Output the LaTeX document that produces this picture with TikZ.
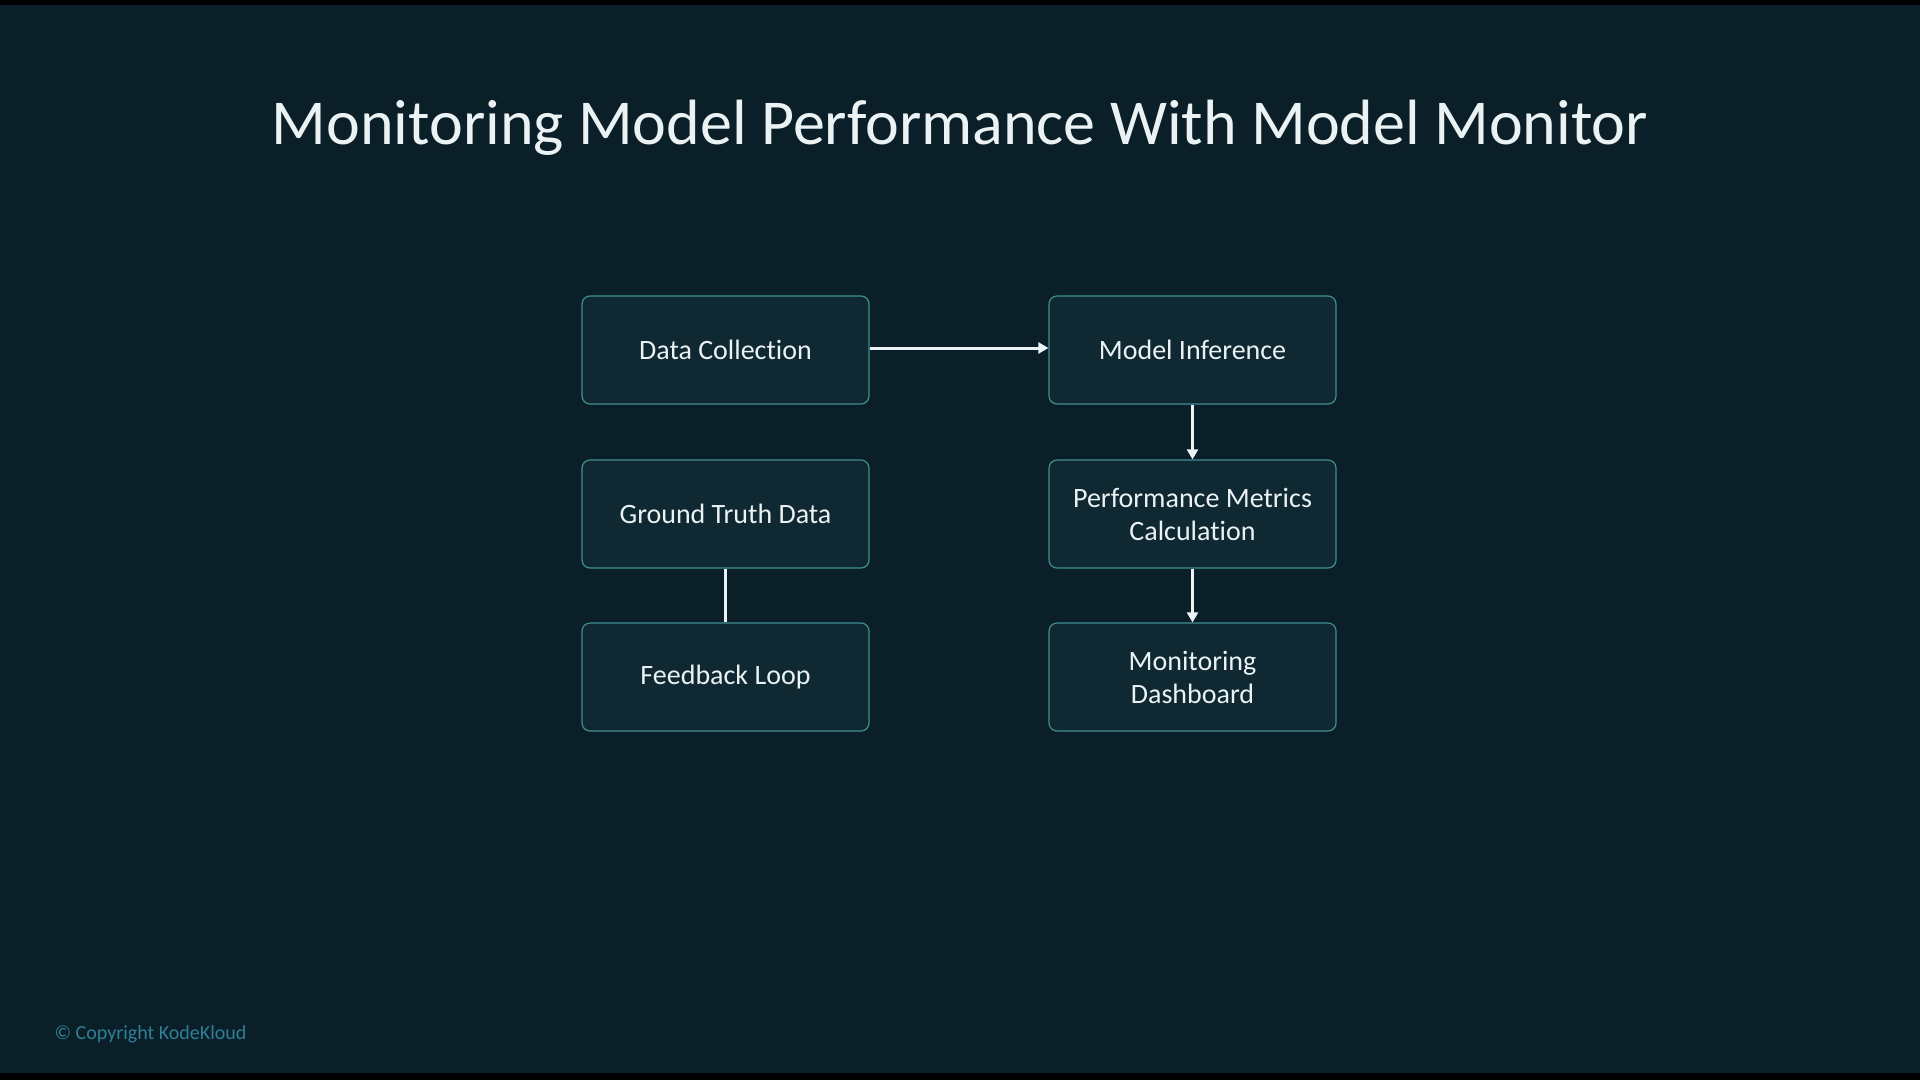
\documentclass[tikz,border=0pt]{standalone}
\usepackage{fontspec}
\setmainfont{Carlito}[Ligatures = NoCommon]
\usepackage{tikz}
\usetikzlibrary{arrows.meta,positioning,shapes}
\definecolor{bgdark}{HTML}{0B1F28}
\definecolor{boxfill}{HTML}{0F2832}
\definecolor{boxline}{HTML}{3F8E90}
\definecolor{linkwhite}{HTML}{EAF2F4}
\definecolor{copyblue}{HTML}{2F7F96}

\begin{document}
\begin{tikzpicture}[x = 1pt, y = -1pt,
  stage/.style = {draw = boxline, line width = 1.2pt, fill = boxfill, rounded corners = 8pt,
    minimum width = 287pt, minimum height = 108pt, align = center, text = linkwhite,
    font = \fontsize{28}{33}\selectfont},
  link/.style = {draw = linkwhite, line width = 3pt, -{Triangle[length = 10pt, width = 11pt]}},
  plainlink/.style = {draw = linkwhite, line width = 3pt}]
\fill[bgdark] (0,0) rectangle (1920,1080);
\fill[black] (0,0) rectangle (1920,5);
\fill[black] (0,1073) rectangle (1920,1080);
\useasboundingbox (0,0) rectangle (1920,1080);
\node[text = linkwhite, font = \fontsize{64}{70}\selectfont] (title) at (960,128) {Monitoring Model Performance With Model Monitor};
\node[stage] (collect) at (725.5,350) {Data Collection};
\node[stage] (infer) at (1192.5,350) {Model Inference};
\node[stage] (truth) at (725.5,514) {Ground Truth Data};
\node[stage] (metrics) at (1192.5,514) {Performance Metrics\\Calculation};
\node[stage] (feedback) at (725.5,677) {Feedback Loop};
\node[stage] (dash) at (1192.5,677) {Monitoring\\Dashboard};
\draw[link] ([yshift = 2pt]collect.east) -- ([yshift = 2pt]infer.west);
\draw[link] (infer) -- (metrics);
\draw[link] (metrics) -- (dash);
\draw[plainlink] (truth) -- (feedback);
\node[anchor = west, text = copyblue, font = \fontsize{20}{24}\selectfont] (copy) at (51,1034) {© Copyright KodeKloud};
\end{tikzpicture}
\end{document}
